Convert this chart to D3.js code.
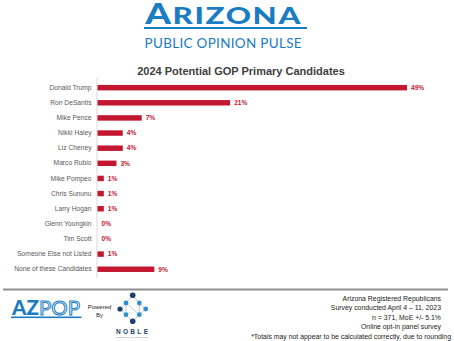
<!DOCTYPE html>
<html>
<head>
<meta charset="utf-8">
<script src="https://cdn.jsdelivr.net/npm/d3@7"></script>
<style>
  html, body { margin: 0; padding: 0; background: #fff; }
  svg { display: block; }
</style>
</head>
<body>
<script>
const categories = ["Donald Trump", "Ron DeSantis", "Mike Pence", "Nikki Haley", "Liz Cheney", "Marco Rubio", "Mike Pompeo", "Chris Sununu", "Larry Hogan", "Glenn Youngkin", "Tim Scott", "Someone Else not Listed", "None of these Candidates"];
const values = [49, 21, 7, 4, 4, 3, 1, 1, 1, 0, 0, 1, 9];
const chartTitle = "2024 Potential GOP Primary Candidates";
const footnotes = ["Arizona Registered Republicans", "Survey conducted April 4 \u2013 11, 2023", "n = 371, MoE +/- 5.1%", "Online opt-in panel survey"];
const disclaimer = "*Totals may not appear to be calculated correctly, due to rounding";

const W = 454, H = 341;
const BLUE = "#1a7cc2", RED = "#c3162f", NAVY = "#1f3f6b", NBLUE = "#2f8fcf";
const svg = d3.select("body").append("svg").attr("width", W).attr("height", H);

// fit a group horizontally into [x0, x1]
function fitX(g, x0, x1) {
  const b = g.node().getBBox();
  const s = (x1 - x0) / b.width;
  g.attr("transform", `translate(${x0 - b.x * s},0) scale(${s},1)`);
}

// Header logo
const azg = svg.append("g");
const az = azg.append("text").attr("x", 0).attr("y", 24)
  .attr("font-family", "Lato, 'Open Sans', sans-serif").attr("font-weight", 900)
  .attr("fill", BLUE).attr("letter-spacing", 1.2);
az.append("tspan").attr("font-size", 27.5).text("A");
az.append("tspan").attr("font-size", 23.5).text("RIZONA");
fitX(azg, 144, 302);
svg.append("rect").attr("x", 144).attr("y", 27).attr("width", 163).attr("height", 2).attr("fill", BLUE);
const ppg = svg.append("g");
ppg.append("text").attr("x", 0).attr("y", 48)
  .attr("font-family", "Lato, 'Open Sans', sans-serif").attr("font-size", 12.5)
  .attr("fill", BLUE).attr("letter-spacing", 0.3)
  .text("PUBLIC OPINION PULSE");
fitX(ppg, 144.5, 302);

// Title
svg.append("text").attr("x", 241).attr("y", 74.5).attr("text-anchor", "middle")
  .attr("font-family", "'Liberation Sans', Arial, sans-serif").attr("font-weight", "bold")
  .attr("font-size", 11).attr("fill", "#404040").text(chartTitle);

// Scales
const y = d3.scaleBand().domain(categories).range([80.1, 276.8]).paddingInner(0.64).paddingOuter(0.32);
const x = d3.scaleLinear().domain([0, 49]).range([97.5, 407]);

// Axis (category labels)
const yAxis = svg.append("g").attr("transform", `translate(${x(0)},0)`)
  .call(d3.axisLeft(y).tickSize(0).tickPadding(6));
yAxis.select(".domain").remove();
yAxis.selectAll("text").attr("font-family", "'Liberation Sans', Arial, sans-serif")
  .attr("font-size", 6.7).attr("fill", "#595959");
svg.append("line").attr("x1", 97).attr("x2", 97).attr("y1", 78).attr("y2", 278)
  .attr("stroke", "#d9d9d9").attr("stroke-width", 1);

// Bars
const data = categories.map((c, i) => ({ c, v: values[i] }));
svg.append("g").selectAll("rect").data(data).join("rect")
  .attr("x", x(0)).attr("y", d => y(d.c))
  .attr("width", d => x(d.v) - x(0)).attr("height", y.bandwidth())
  .attr("fill", RED);
svg.append("g").selectAll("text").data(data).join("text")
  .attr("x", d => x(d.v) + 4).attr("y", d => y(d.c) + y.bandwidth() / 2)
  .attr("dy", "0.35em")
  .attr("font-family", "'Liberation Sans', Arial, sans-serif").attr("font-weight", "bold")
  .attr("font-size", 6.6).attr("fill", RED)
  .text(d => d.v + "%");

// Footer separator
svg.append("line").attr("x1", 3).attr("x2", 448).attr("y1", 289.5).attr("y2", 289.5)
  .attr("stroke", "#8f8f8f").attr("stroke-width", 2.2);

// Footnotes
svg.append("g").selectAll("text").data(footnotes).join("text")
  .attr("x", 441).attr("y", (d, i) => 300.5 + i * 9.6).attr("text-anchor", "end")
  .attr("font-family", "'Liberation Sans', Arial, sans-serif").attr("font-size", 6.9)
  .attr("fill", "#1a1a1a").text(d => d);
svg.append("text").attr("x", 451).attr("y", 339).attr("text-anchor", "end")
  .attr("font-family", "'Liberation Sans', Arial, sans-serif").attr("font-size", 6.9)
  .attr("fill", "#1a1a1a").text(disclaimer);

// AZPOP logo
const apg = svg.append("g");
const apt = apg.append("text").attr("x", 0).attr("y", 315.5)
  .attr("font-family", "Lato, sans-serif").attr("font-size", 20);
apt.append("tspan").attr("font-weight", 900).attr("fill", BLUE).text("AZ");
apt.append("tspan").attr("font-weight", 400).attr("fill", "none")
  .attr("stroke", BLUE).attr("stroke-width", 1).text("POP");
fitX(apg, 11, 80);
svg.append("rect").attr("x", 11).attr("y", 316.5).attr("width", 70.5).attr("height", 1.6).attr("fill", BLUE);

// Powered By
svg.append("text").attr("x", 99.5).attr("y", 309).attr("text-anchor", "middle")
  .attr("font-family", "'Liberation Sans', Arial, sans-serif").attr("font-size", 6)
  .attr("fill", "#222").text("Powered");
svg.append("text").attr("x", 99.5).attr("y", 317).attr("text-anchor", "middle")
  .attr("font-family", "'Liberation Sans', Arial, sans-serif").attr("font-size", 6)
  .attr("fill", "#222").text("By");

// Noble logo
const nb = svg.append("g");
const links = [[126, 303, 126, 314.7], [126, 303, 139.3, 314.7], [139.3, 303, 139.3, 314.7],
  [132.7, 295.3, 126, 303], [132.7, 295.3, 139.3, 303], [120, 309, 126, 303], [120, 309, 126, 314.7],
  [145.7, 309, 139.3, 303], [145.7, 309, 139.3, 314.7], [132.7, 321.3, 126, 314.7], [132.7, 321.3, 139.3, 314.7]];
nb.selectAll("line").data(links).join("line")
  .attr("x1", d => d[0]).attr("y1", d => d[1]).attr("x2", d => d[2]).attr("y2", d => d[3])
  .attr("stroke", "#8aa6c4").attr("stroke-width", 0.6);
const dots = [[132.7, 295.3, NAVY, 2.8], [126, 303, NBLUE, 2.4], [139.3, 303, NBLUE, 2.4],
  [120, 309, NAVY, 2.6], [145.7, 309, NBLUE, 2.4], [126, 314.7, NBLUE, 2.4], [139.3, 314.7, NBLUE, 2.4],
  [132.7, 321.3, NAVY, 2.8]];
nb.selectAll("circle").data(dots).join("circle")
  .attr("cx", d => d[0]).attr("cy", d => d[1]).attr("r", d => d[3]).attr("fill", d => d[2]);
nb.append("text").attr("x", 116).attr("y", 333.5)
  .attr("font-family", "'Liberation Sans', Arial, sans-serif").attr("font-weight", "bold")
  .attr("font-size", 6.5).attr("fill", NAVY).attr("textLength", 32).attr("lengthAdjust", "spacing")
  .text("NOBLE");
nb.append("text").attr("x", 116).attr("y", 338)
  .attr("font-family", "'Liberation Sans', Arial, sans-serif")
  .attr("font-size", 2.4).attr("fill", "#7a8ea8").attr("textLength", 32).attr("lengthAdjust", "spacingAndGlyphs")
  .text("PREDICTIVE INSIGHTS");
</script>
</body>
</html>
